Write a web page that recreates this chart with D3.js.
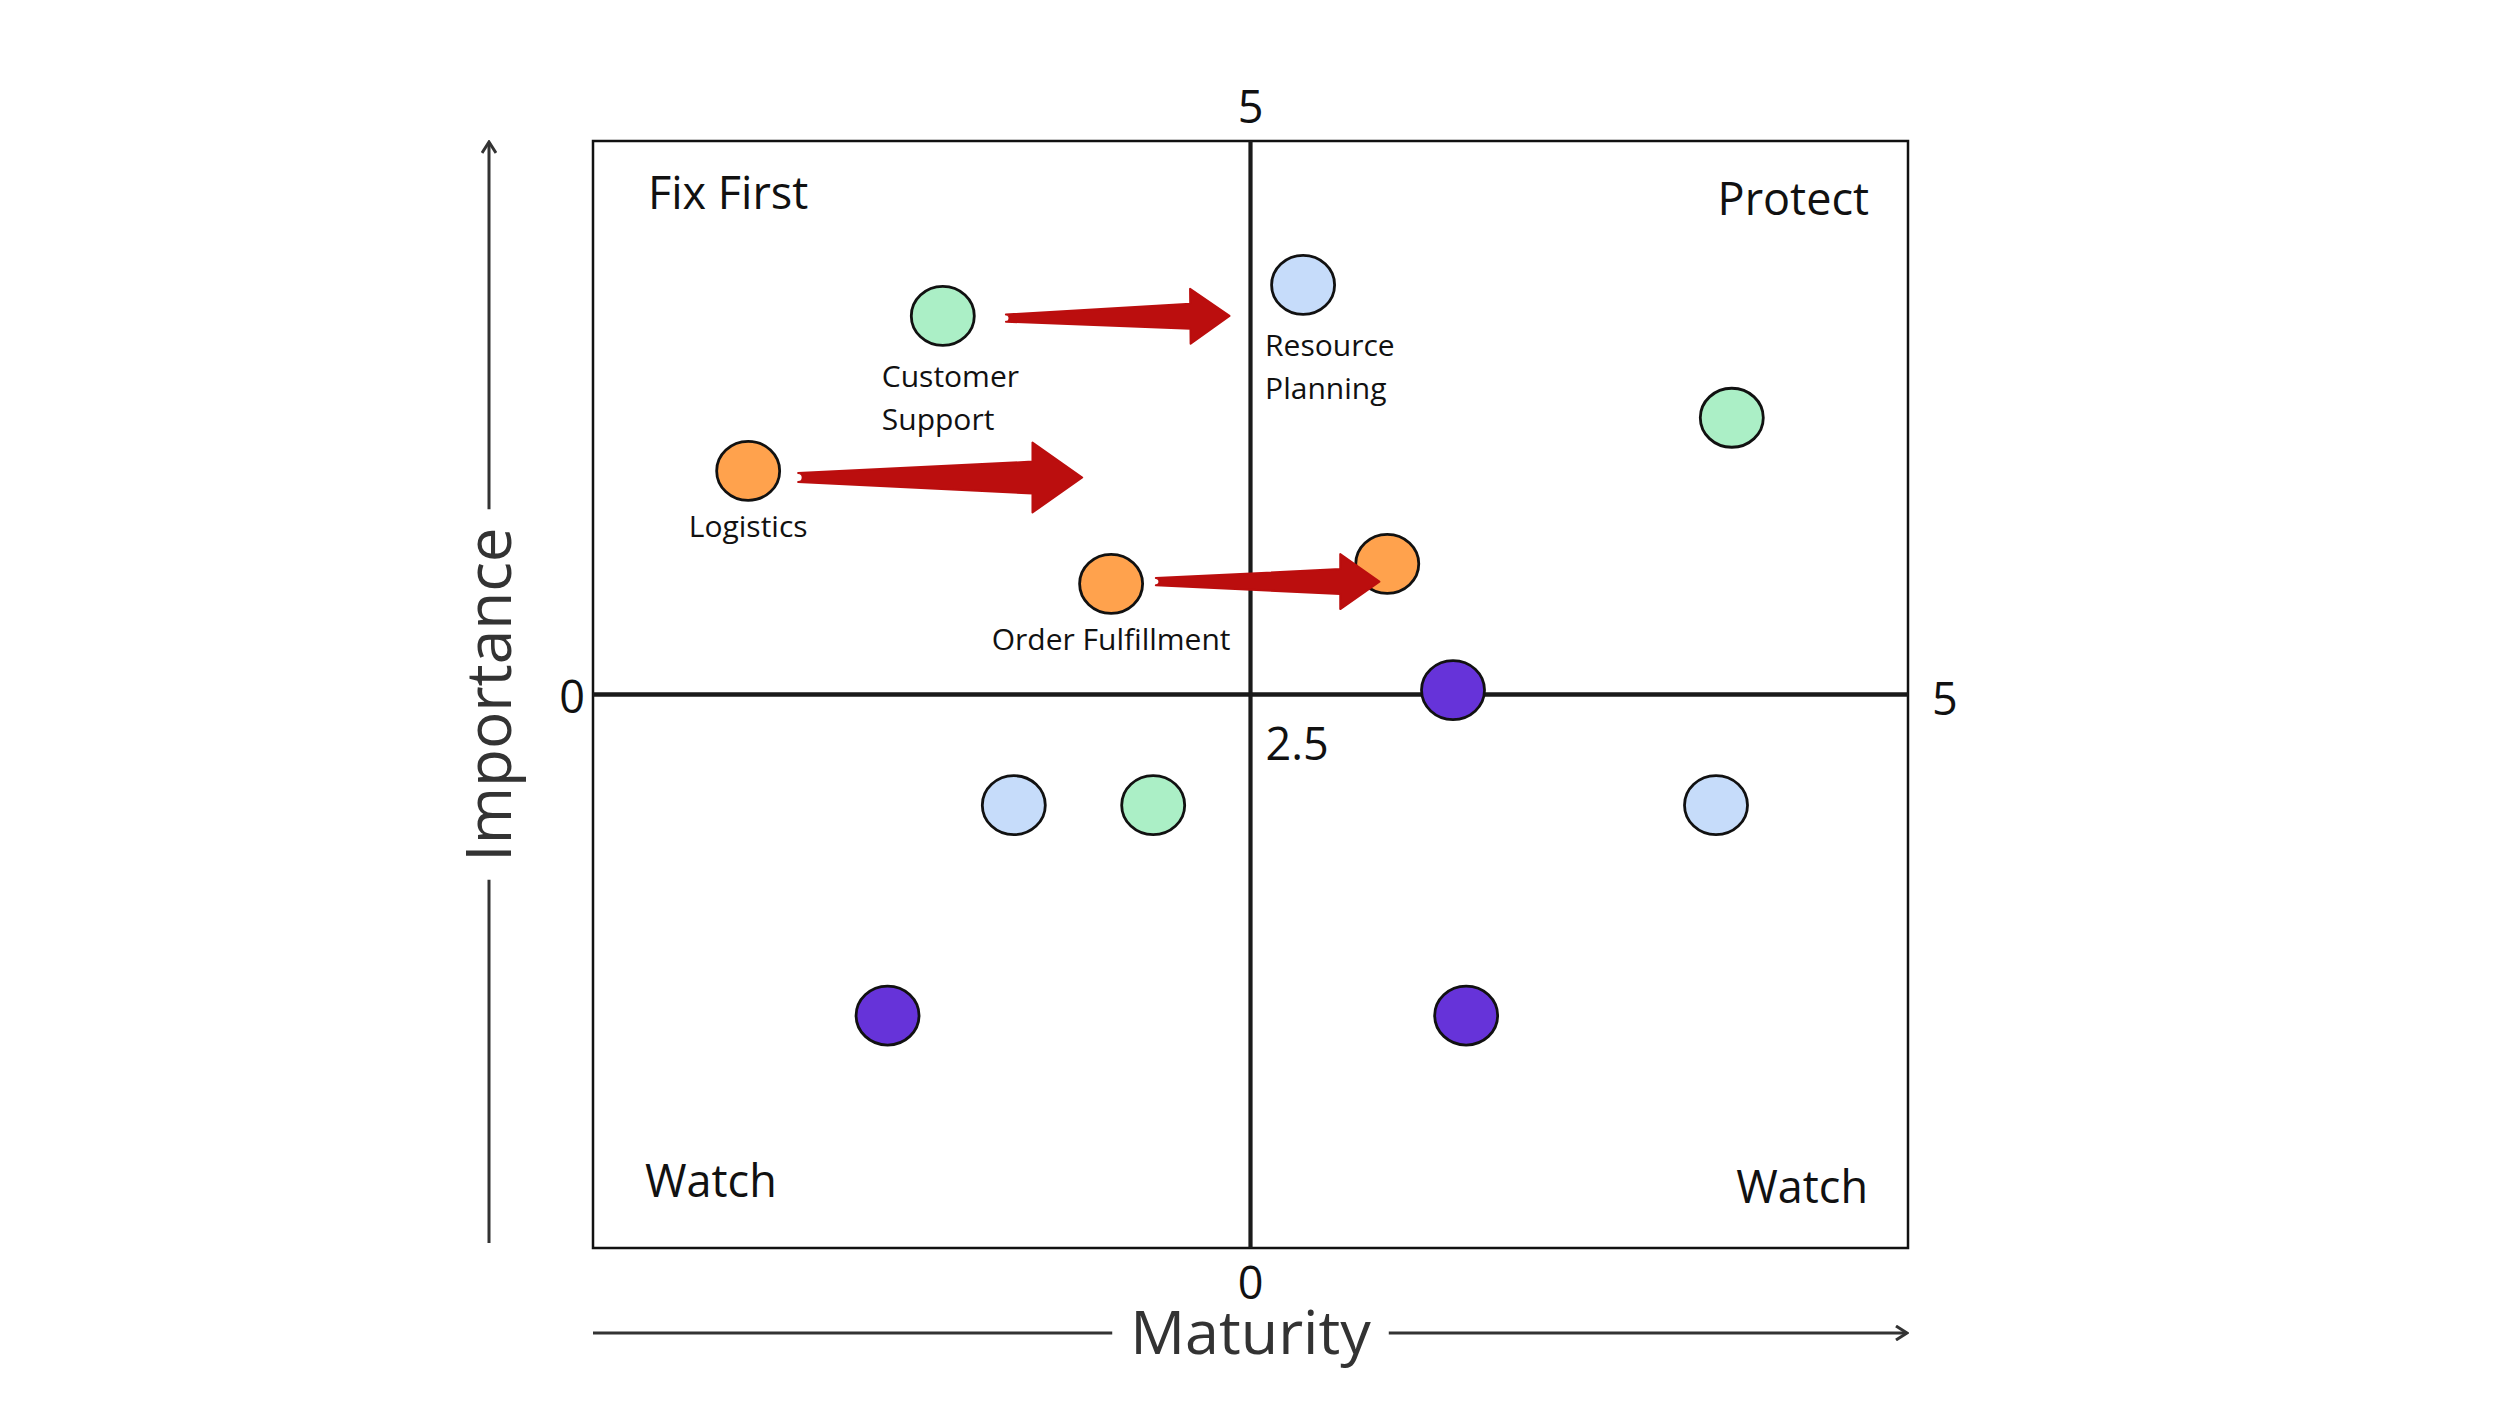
<!DOCTYPE html>
<html>
<head>
<meta charset="utf-8">
<script src="https://cdn.jsdelivr.net/npm/d3@7/dist/d3.min.js"></script>
<style>
    body { margin: 0; background: #fff; }
    svg text { font-family: "Open Sans", "Noto Sans", sans-serif; fill: #111; }
</style>
</head>
<body>
<svg id="matrix" width="2500" height="1406"></svg>
<script>
// chart data
var pointLabels = ["Customer\nSupport", "Resource\nPlanning", "Logistics", "Order Fulfillment",
    "", "", "", "", "", "", "", ""];
var maturity = [1.33, 2.70, 0.59, 1.97, 3.02, 4.33, 3.27, 1.60, 2.13, 4.27, 1.12, 3.32];
var importance = [4.21, 4.35, 3.51, 3.00, 3.09, 3.75, 2.52, 2.00, 2.00, 2.00, 1.05, 1.05];
var groups = ["green", "blue", "orange", "orange", "orange", "green", "purple", "blue", "green",
    "blue", "purple", "purple"];

// movement arrows (from -> to), in data units
var arrowFromX = [1.57, 0.78, 2.14];
var arrowFromY = [4.20, 3.48, 3.01];
var arrowToX = [2.42, 1.86, 2.99];
var arrowToY = [4.21, 3.48, 3.01];

var quadrantNames = ["Fix First", "Protect", "Watch", "Watch"];
var axisDomain = [0, 5];
var midValue = 2.5;
var xTickValues = [0, 5];
var yTickValues = [0, 5];
var xTitle = "Maturity";
var yTitle = "Importance";

// all the functions, fields go under this object
matrix = {};

matrix.margins = {
    top: 141,
    bottom: 158,
    left: 593,
    right: 592
};
matrix.colors = {
    green: "#abefc6",
    blue: "#c6dcfa",
    orange: "#ffa24d",
    purple: "#6633d9"
};
matrix.arrowColor = "#bb0e0e";
matrix.x = d3.scaleLinear();
matrix.y = d3.scaleLinear();

/**
 * initialize the chart
 */
matrix.init = function() {
    var client = d3.select("#matrix").node().getBoundingClientRect();
    this.width = client.width - this.margins.left - this.margins.right;
    this.height = client.height - this.margins.top - this.margins.bottom;
    this.svg = d3.select("#matrix")
        .append("g")
        .attr("transform", `translate(${this.margins.left}, ${this.margins.top})`);

    this.x.domain(axisDomain).range([0, this.width]);
    this.y.domain(axisDomain).range([this.height, 0]);

    this.drawFrame();
    this.drawTitles();
    this.drawPoints();
    this.drawArrows();
};

/**
 * box, center cross, quadrant names and tick labels
 */
matrix.drawFrame = function() {
    var x = this.x, y = this.y;
    var cx = x(midValue), cy = y(midValue);

    this.svg.append("rect")
        .attr("x", 0).attr("y", 0)
        .attr("width", this.width).attr("height", this.height)
        .style("fill", "none").style("stroke", "#111").style("stroke-width", 2.5);

    this.svg.append("line")
        .attr("x1", x(axisDomain[0])).attr("x2", x(axisDomain[1]))
        .attr("y1", cy).attr("y2", cy)
        .style("stroke", "#1a1a1a").style("stroke-width", 4.5);
    this.svg.append("line")
        .attr("x1", cx).attr("x2", cx)
        .attr("y1", y(axisDomain[1])).attr("y2", y(axisDomain[0]))
        .style("stroke", "#1a1a1a").style("stroke-width", 4.2);

    // quadrant names: top-left, top-right, bottom-left, bottom-right
    var qPos = [
        { x: 55, y: 68, anchor: "start" },
        { x: this.width - 39, y: 74, anchor: "end" },
        { x: 52, y: this.height - 51, anchor: "start" },
        { x: this.width - 40, y: this.height - 45, anchor: "end" }
    ];
    this.svg.append("g").selectAll("text")
        .data(quadrantNames)
        .enter().append("text")
        .attr("x", (d, i) => qPos[i].x)
        .attr("y", (d, i) => qPos[i].y)
        .attr("text-anchor", (d, i) => qPos[i].anchor)
        .style("font-size", "45px")
        .text((d) => d);

    // tick labels sit on the ends of the two center lines
    var ticks = this.svg.append("g").style("font-size", "45px");
    ticks.selectAll(".xTick")
        .data(xTickValues)
        .enter().append("text")
        .attr("class", "xTick")
        .attr("x", (d, i) => x(d) + (i === 0 ? -8 : 24))
        .attr("y", (d, i) => cy + (i === 0 ? 18 : 20))
        .attr("text-anchor", (d, i) => i === 0 ? "end" : "start")
        .text((d) => d);
    ticks.selectAll(".yTick")
        .data(yTickValues)
        .enter().append("text")
        .attr("class", "yTick")
        .attr("x", cx)
        .attr("y", (d, i) => y(d) + (i === 0 ? 51 : -18))
        .attr("text-anchor", "middle")
        .text((d) => d);
    ticks.append("text")
        .attr("x", cx + 15)
        .attr("y", cy + 65)
        .text(midValue);
};

/**
 * axis titles with the long arrows either side
 */
matrix.drawTitles = function() {
    var g = this.svg.append("g");
    var cx = this.x(midValue), cy = this.y(midValue);
    var lineX = -104, lineY = this.height + 85;
    var gap = 18;

    g.append("defs").append("marker")
        .attr("id", "chev")
        .attr("viewBox", "-12 -8 14 16")
        .attr("markerWidth", 14).attr("markerHeight", 16)
        .attr("markerUnits", "userSpaceOnUse")
        .attr("orient", "auto")
        .append("path")
        .attr("d", "M-11,-7L0,0L-11,7")
        .style("fill", "none").style("stroke", "#333").style("stroke-width", 3);

    var xt = g.append("text")
        .attr("x", cx).attr("y", lineY + 21)
        .attr("text-anchor", "middle")
        .style("font-size", "61px").style("fill", "#333")
        .text(xTitle);
    var xw = xt.node().getComputedTextLength();
    g.append("line")
        .attr("x1", this.x(axisDomain[0])).attr("x2", cx - xw / 2 - gap)
        .attr("y1", lineY).attr("y2", lineY)
        .style("stroke", "#333").style("stroke-width", 3);
    g.append("line")
        .attr("x1", cx + xw / 2 + gap).attr("x2", this.x(axisDomain[1]) - 1)
        .attr("y1", lineY).attr("y2", lineY)
        .style("stroke", "#333").style("stroke-width", 3)
        .attr("marker-end", "url(#chev)");

    var yt = g.append("text")
        .attr("transform", `translate(${lineX + 22}, ${cy}) rotate(-90)`)
        .attr("text-anchor", "middle")
        .style("font-size", "62px").style("fill", "#333")
        .text(yTitle);
    var yw = yt.node().getComputedTextLength();
    g.append("line")
        .attr("x1", lineX).attr("x2", lineX)
        .attr("y1", this.height - 5).attr("y2", cy + yw / 2 + gap)
        .style("stroke", "#333").style("stroke-width", 3);
    g.append("line")
        .attr("x1", lineX).attr("x2", lineX)
        .attr("y1", cy - yw / 2 - gap).attr("y2", this.y(axisDomain[1]) + 1)
        .style("stroke", "#333").style("stroke-width", 3)
        .attr("marker-end", "url(#chev)");
};

/**
 * the bubbles and their names
 */
matrix.drawPoints = function() {
    var data = maturity.map((m, i) => ({
        x: m, y: importance[i], group: groups[i], label: pointLabels[i]
    }));

    this.svg.append("g")
        .selectAll("ellipse")
        .data(data)
        .enter().append("ellipse")
        .attr("cx", (d) => this.x(d.x))
        .attr("cy", (d) => this.y(d.y))
        .attr("rx", 31.5)
        .attr("ry", 29.5)
        .style("fill", (d) => this.colors[d.group])
        .style("stroke", "#111")
        .style("stroke-width", 2.8);

    // two-line names are left aligned a bit left of the bubble
    var labelDx = { "Customer\nSupport": -61, "Resource\nPlanning": -38 };
    var labels = this.svg.append("g")
        .selectAll("text")
        .data(data.filter((d) => d.label !== ""))
        .enter().append("text")
        .style("font-size", "30px")
        .attr("text-anchor", (d) => labelDx[d.label] === undefined ? "middle" : "start")
        .attr("transform", (d) => {
            var dx = labelDx[d.label] || 0;
            var dy = d.label.indexOf("\n") >= 0 ? 71 : 66;
            return `translate(${this.x(d.x) + dx}, ${this.y(d.y) + dy})`;
        });
    labels.selectAll("tspan")
        .data((d) => d.label.split("\n"))
        .enter().append("tspan")
        .attr("x", 0)
        .attr("y", (d, i) => i * 43)
        .text((d) => d);
};

/**
 * tapered red arrows, size follows the length
 */
matrix.drawArrows = function() {
    var path = (i) => {
        var tx = this.x(arrowFromX[i]), ty = this.y(arrowFromY[i]);
        var px = this.x(arrowToX[i]), py = this.y(arrowToY[i]);
        var len = Math.hypot(px - tx, py - ty);
        var ux = (px - tx) / len, uy = (py - ty) / len;
        var nx = -uy, ny = ux;
        var w0 = 0.016 * len, w1 = 0.056 * len, wh = 0.123 * len, hl = 0.175 * len;
        var bx = px - ux * hl, by = py - uy * hl;
        var pts = [
            [tx + nx * w0, ty + ny * w0],
            [bx + nx * w1, by + ny * w1],
            [bx + nx * wh, by + ny * wh],
            [px, py],
            [bx - nx * wh, by - ny * wh],
            [bx - nx * w1, by - ny * w1],
            [tx - nx * w0, ty - ny * w0]
        ];
        return "M" + pts.map((p) => p.join(",")).join("L") +
            `A${w0},${w0} 0 0 1 ${pts[0][0]},${pts[0][1]}Z`;
    };

    this.svg.append("g")
        .selectAll("path")
        .data(arrowFromX)
        .enter().append("path")
        .attr("d", (d, i) => path(i))
        .style("fill", this.arrowColor)
        .style("stroke", this.arrowColor)
        .style("stroke-width", 2)
        .style("stroke-linejoin", "round");
};

matrix.init();
</script>
</body>
</html>
